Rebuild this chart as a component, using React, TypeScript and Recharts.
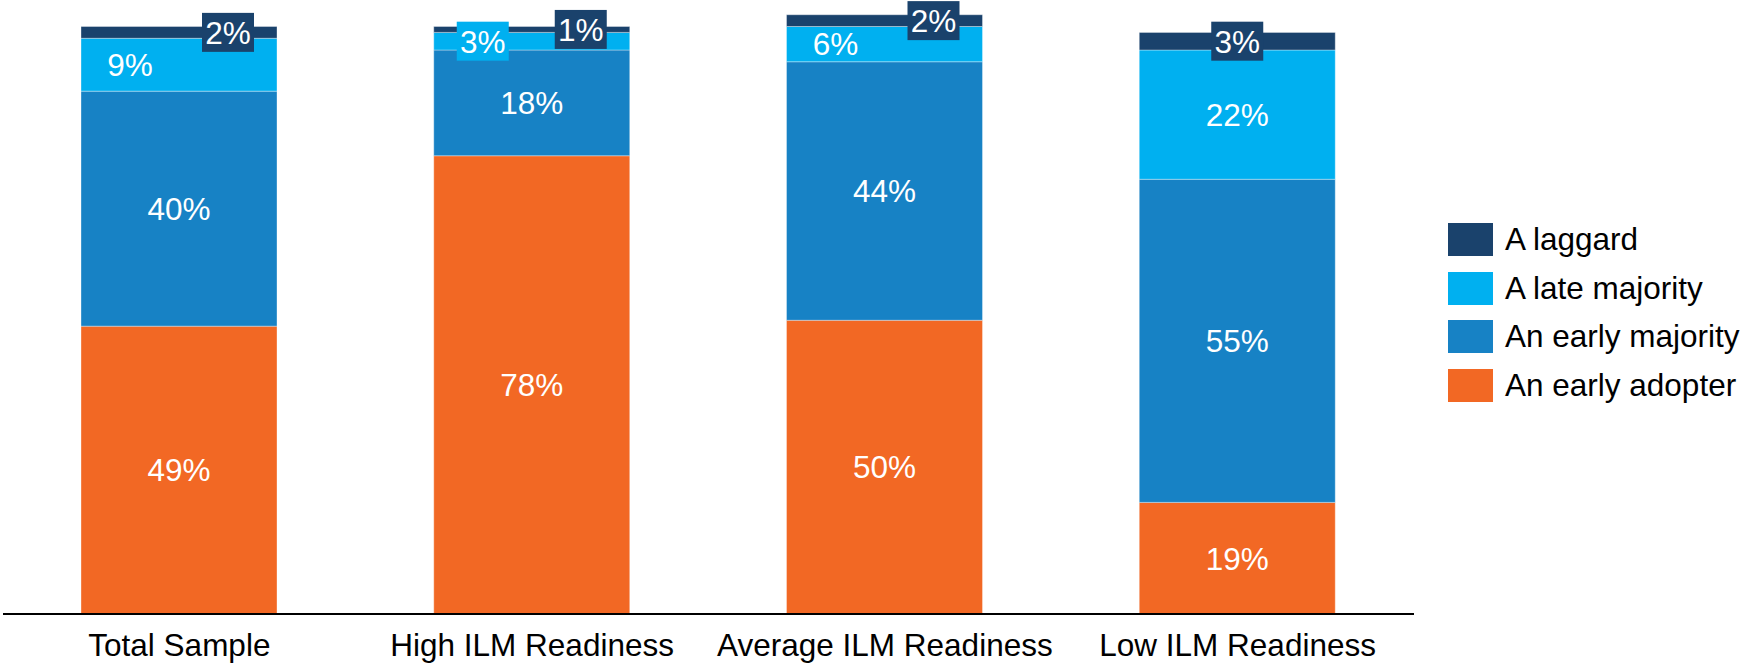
import React from "react";
import { BarChart, Bar, XAxis, YAxis, LabelList, Legend } from "recharts";

// Share of respondents in each adopter group, per readiness segment (%)
const categories = ["Total Sample", "High ILM Readiness", "Average ILM Readiness", "Low ILM Readiness"];
const earlyAdopter = [49, 78, 50, 19];
const earlyMajority = [40, 18, 44, 55];
const lateMajority = [9, 3, 6, 22];
const laggard = [2, 1, 2, 3];

const seriesNames = ["An early adopter", "An early majority", "A late majority", "A laggard"];
const seriesKeys = ["adopter", "earlyMajority", "lateMajority", "laggard"];
const seriesColors = ["#f26824", "#1782c5", "#00b0f0", "#1a426c"];

// Horizontal nudge of the small-segment labels (px from the bar centre)
const lateLabelShift = [-49, -49, -49, 0];
const laggardLabelShift = [49, 49, 49, 0];

const FONT = "'Liberation Sans', Arial, Helvetica, sans-serif";
const TEXT_SIZE = 31.5;

const data = categories.map((name, i) => ({
  name,
  adopter: earlyAdopter[i],
  earlyMajority: earlyMajority[i],
  lateMajority: lateMajority[i],
  laggard: laggard[i],
}));

function segmentLabel(shift: number[] | null, boxFill: string | null, boxBelow: number) {
  return (p: any) => {
    const x = Number(p.x);
    const y = Number(p.y);
    const w = Number(p.width);
    const h = Number(p.height);
    const idx = Number(p.index);
    const cx = x + w / 2 + (shift ? shift[idx] : 0);
    const cy = y + h / 2;
    const showBox = boxFill !== null && Math.abs(h) < boxBelow;
    return (
      <g>
        {showBox && <rect x={cx - 26} y={cy - 19.5} width={52} height={39} fill={boxFill as string} />}
        <text
          x={cx}
          y={cy + TEXT_SIZE * 0.36}
          textAnchor="middle"
          fill="#ffffff"
          fontSize={TEXT_SIZE}
          fontFamily={FONT}
        >
          {`${p.value}%`}
        </text>
      </g>
    );
  };
}

const CategoryTick = (p: any) => (
  <text
    x={p.x}
    y={Number(p.y) + 42}
    textAnchor="middle"
    fill="#000000"
    fontSize={TEXT_SIZE}
    fontFamily={FONT}
  >
    {p.payload.value}
  </text>
);

const LegendList = () => {
  const order = [3, 2, 1, 0];
  return (
    <div style={{ fontFamily: FONT, fontSize: TEXT_SIZE, color: "#000" }}>
      {order.map((i) => (
        <div key={seriesKeys[i]} style={{ display: "flex", alignItems: "center", height: 48.7 }}>
          <div style={{ width: 45, height: 33, background: seriesColors[i], marginRight: 12, flex: "none" }} />
          <span style={{ whiteSpace: "nowrap", lineHeight: "33px" }}>{seriesNames[i]}</span>
        </div>
      ))}
    </div>
  );
};

export default function App() {
  return (
    <div style={{ position: "absolute", left: 0, top: 0, background: "#ffffff" }}>
      <BarChart
        width={1749}
        height={666}
        data={data}
        margin={{ top: 3, right: 335, bottom: 0, left: 3 }}
        barSize={196}
      >
        <XAxis
          dataKey="name"
          height={52}
          axisLine={{ stroke: "#000000", strokeWidth: 2 }}
          tickLine={false}
          tickSize={0}
          tickMargin={0}
          interval={0}
          tick={<CategoryTick />}
        />
        <YAxis hide width={0} domain={[0, 104]} />
        <Legend
          layout="vertical"
          align="center"
          verticalAlign="middle"
          content={<LegendList />}
          wrapperStyle={{ left: 1448, top: 215, width: 300 }}
        />
        <Bar dataKey="adopter" name={seriesNames[0]} stackId="s" fill={seriesColors[0]}
          stroke="#ffffff" strokeOpacity={0.35} strokeWidth={1} isAnimationActive={false}>
          <LabelList dataKey="adopter" content={segmentLabel(null, null, 0)} />
        </Bar>
        <Bar dataKey="earlyMajority" name={seriesNames[1]} stackId="s" fill={seriesColors[1]}
          stroke="#ffffff" strokeOpacity={0.35} strokeWidth={1} isAnimationActive={false}>
          <LabelList dataKey="earlyMajority" content={segmentLabel(null, null, 0)} />
        </Bar>
        <Bar dataKey="lateMajority" name={seriesNames[2]} stackId="s" fill={seriesColors[2]}
          stroke="#ffffff" strokeOpacity={0.35} strokeWidth={1} isAnimationActive={false}>
          <LabelList dataKey="lateMajority" content={segmentLabel(lateLabelShift, seriesColors[2], 30)} />
        </Bar>
        <Bar dataKey="laggard" name={seriesNames[3]} stackId="s" fill={seriesColors[3]}
          stroke="#ffffff" strokeOpacity={0.35} strokeWidth={1} isAnimationActive={false}>
          <LabelList dataKey="laggard" content={segmentLabel(laggardLabelShift, seriesColors[3], 1000)} />
        </Bar>
      </BarChart>
    </div>
  );
}
